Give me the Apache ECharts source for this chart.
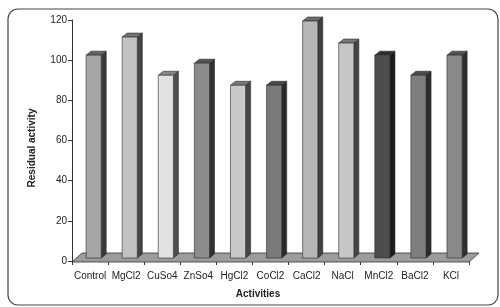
<!DOCTYPE html>
<html>
<head>
<meta charset="utf-8">
<script src="https://cdn.jsdelivr.net/npm/echarts@6/dist/echarts.min.js"></script>
<style>
  html, body { margin: 0; padding: 0; background: #fff; }
  #chart { width: 500px; height: 307px; }
</style>
</head>
<body>
<div id="chart"></div>
<script>
const categories = ["Control", "MgCl2", "CuSo4", "ZnSo4", "HgCl2", "CoCl2", "CaCl2", "NaCl", "MnCl2", "BaCl2", "KCl"];
const activity = [101, 110, 91, 97, 86, 86, 118, 107, 101, 91, 101];
const barColors = ["#a6a6a6", "#c2c2c2", "#e2e2e2", "#8c8c8c", "#c8c8c8", "#7a7a7a", "#b6b6b6", "#c6c6c6", "#4c4c4c", "#7e7e7e", "#8a8a8a"];
const yTicks = [0, 20, 40, 60, 80, 100, 120];

const chart = echarts.init(document.getElementById("chart"));

function shade(hex, k) {
  const n = parseInt(hex.slice(1), 16);
  const c = [(n >> 16) & 255, (n >> 8) & 255, n & 255].map(v => Math.round(v * k));
  return "rgb(" + c.join(",") + ")";
}

// floor of the 3d plot
function renderFloor(params, api) {
  const cs = params.coordSys;
  const y0 = api.coord([0, 0])[1];
  const x0 = cs.x, x1 = cs.x + cs.width;
  return {
    type: "polygon",
    shape: { points: [[x0, y0 + 1], [x1, y0 + 1], [x1 + 10, y0 - 8], [x0 + 10, y0 - 8]] },
    style: { fill: "#9c9c9c", stroke: "#333", lineWidth: 0.8 }
  };
}

function renderBar(params, api) {
  const i = api.value(0);
  const v = api.value(1);
  const base = api.coord([i, 0]);
  const top = api.coord([i, v]);
  const band = api.size([1, 0])[0];
  const fx0 = base[0] - band * 0.11;
  const fx1 = fx0 + band * 0.42;
  const yb = base[1] - 3;
  const yt = top[1] - 3;
  const dx = 5, dy = -4;
  const col = barColors[i];
  const line = { stroke: "#2a2a2a", lineWidth: 0.6 };
  return {
    type: "group",
    children: [
      { type: "polygon", shape: { points: [[fx1, yb], [fx1 + dx, yb + dy], [fx1 + dx, yt + dy], [fx1, yt]] },
        style: Object.assign({ fill: shade(col, 0.35) }, line) },
      { type: "polygon", shape: { points: [[fx0, yt], [fx0 + dx, yt + dy], [fx1 + dx, yt + dy], [fx1, yt]] },
        style: Object.assign({ fill: shade(col, 0.6) }, line) },
      { type: "rect", shape: { x: fx0, y: yt, width: fx1 - fx0, height: yb - yt },
        style: Object.assign({ fill: col }, line) }
    ]
  };
}

chart.setOption({
  backgroundColor: "#fff",
  animation: false,
  grid: { left: 72, right: 31, top: 20, bottom: 46 },
  xAxis: {
    type: "category",
    data: categories,
    axisLine: { show: false },
    axisTick: { show: true, length: 4, lineStyle: { color: "#333" } },
    axisLabel: { color: "#222", fontSize: 10, fontFamily: "Liberation Sans", margin: 10, interval: 0 }
  },
  yAxis: {
    type: "value",
    min: yTicks[0],
    max: yTicks[yTicks.length - 1],
    interval: 20,
    axisLine: { show: true, lineStyle: { color: "#333" } },
    axisTick: { show: true, length: 4, lineStyle: { color: "#333" } },
    axisLabel: { color: "#222", fontSize: 10, fontFamily: "Liberation Sans", margin: 5 },
    splitLine: { show: false }
  },
  graphic: [
    { type: "rect", shape: { x: 8, y: 9, width: 490, height: 296, r: 10 },
      style: { fill: "none", stroke: "#444", lineWidth: 1.2 }, z: -1 },
    { type: "text", x: 32, y: 148, rotation: Math.PI / 2,
      style: { text: "Residual activity", font: "bold 10px 'Liberation Sans'", fill: "#222", align: "center", verticalAlign: "middle" } },
    { type: "text", x: 258, y: 294,
      style: { text: "Activities", font: "bold 10px 'Liberation Sans'", fill: "#222", align: "center", verticalAlign: "middle" } }
  ],
  series: [
    { type: "custom", renderItem: renderFloor, data: [[0, 0]], z: 1, silent: true },
    { type: "custom", renderItem: renderBar, data: activity.map((v, i) => [i, v]), z: 2,
      encode: { x: 0, y: 1 } }
  ]
});
</script>
</body>
</html>
